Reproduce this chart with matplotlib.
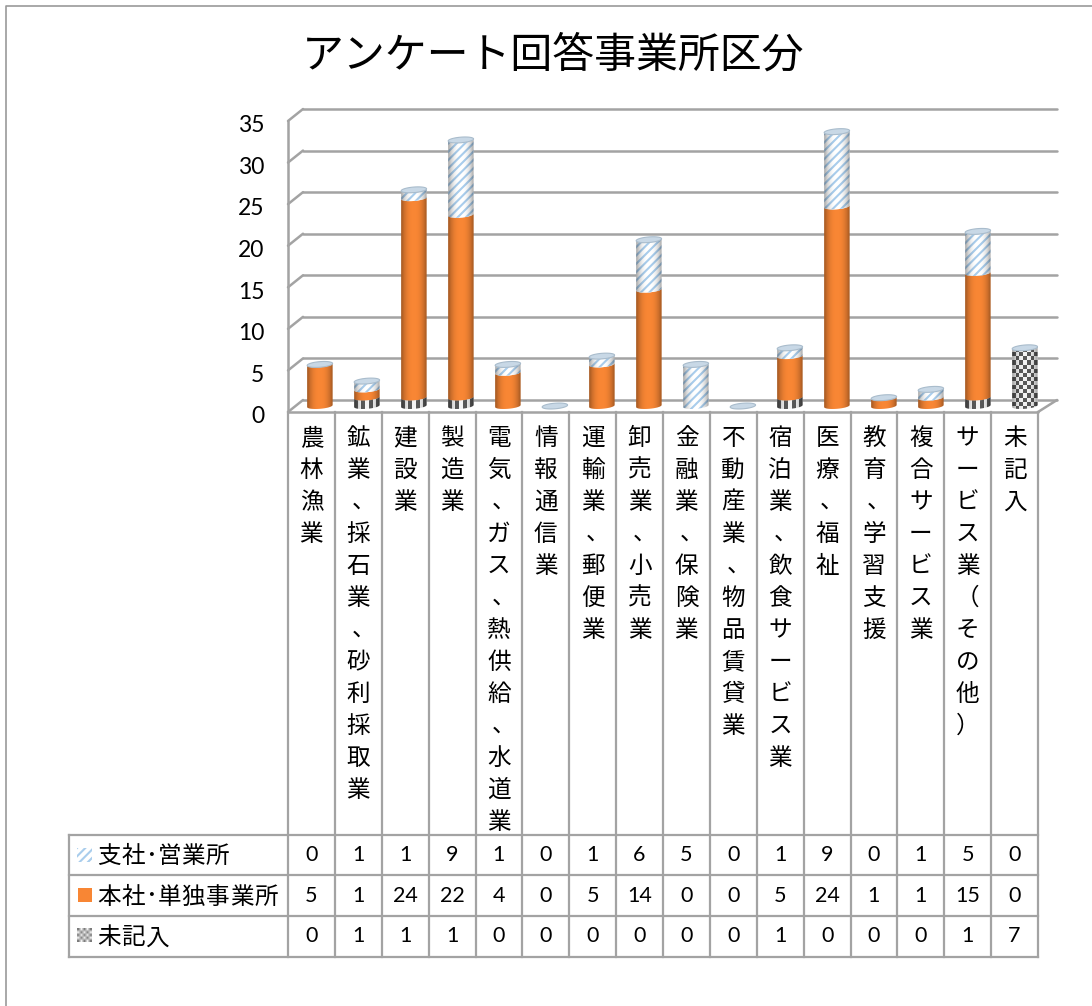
import numpy as np
import matplotlib
matplotlib.use("Agg")
from matplotlib import pyplot as plt
from matplotlib.path import Path
from matplotlib.patches import PathPatch, Rectangle
from matplotlib.transforms import ScaledTranslation

categories = [
    "農林漁業", "鉱業、採石業、砂利採取業", "建設業", "製造業",
    "電気、ガス、熱供給、水道業", "情報通信業", "運輸業、郵便業", "卸売業、小売業",
    "金融業、保険業", "不動産業、物品賃貸業", "宿泊業、飲食サービス業", "医療、福祉",
    "教育、学習支援", "複合サービス業", "サービス業（その他）", "未記入",
]
branch = [0, 1, 1, 9, 1, 0, 1, 6, 5, 0, 1, 9, 0, 1, 5, 0]
head = [5, 1, 24, 22, 4, 0, 5, 14, 0, 0, 5, 24, 1, 1, 15, 0]
unknown = [0, 1, 1, 1, 0, 0, 0, 0, 0, 0, 1, 0, 0, 0, 1, 7]
row_names = ["支社･営業所", "本社･単独事業所", "未記入"]
y_ticks = [0, 5, 10, 15, 20, 25, 30, 35]
title = "アンケート回答事業所区分"

JP = "Noto Sans CJK JP"
GREY = "#a3a3a3"
ORANGE = "#f88634"
STRIPE = "#a9cdec"
PX_X = 750 / 16  # pixels per category
PX_Y = 291 / 35  # pixels per unit

plt.rcParams["hatch.linewidth"] = 1.5

fig = plt.figure(figsize=(10.92, 10.06), dpi=100)
ax = fig.add_axes([288 / 1092, 1 - 412 / 1006, 750 / 1092, 291 / 1006])
ax.patch.set_alpha(0)
for s in ax.spines.values():
    s.set_visible(False)

# 3d walls of the plot area
dx_left, dx_right, dy = 15 / PX_X, 19 / PX_X, 12 / PX_Y
line_kw = dict(color=GREY, lw=1.8, clip_on=False, zorder=1, solid_capstyle="round")
for t in y_ticks:
    ax.plot([dx_left, 16 + dx_right], [t + dy, t + dy], **line_kw)
    ax.plot([0, dx_left], [t, t + dy], **line_kw)
ax.plot([0, 0], [0, 35], **line_kw)
ax.plot([0, 16], [0, 0], **line_kw)
ax.plot([16, 16 + dx_right], [0, dy], **line_kw)


rx = 12.7 / PX_X
ry = 2.8 / PX_Y
tilt = 1.0 / PX_Y
base = 0.72


def front_arc(xc, yc, reverse=False):
    t = np.linspace(np.pi, 2 * np.pi, 30)
    if reverse:
        t = t[::-1]
    return np.c_[xc + rx * np.cos(t), yc + ry * np.sin(t) + tilt * np.cos(t)]


def body_path(xc, y0, y1):
    verts = np.vstack([front_arc(xc, y0), front_arc(xc, y1, reverse=True)])
    verts = np.vstack([verts, verts[0]])
    return Path(verts, closed=True)


def checker_image(nx, ny):
    yy, xx = np.indices((ny, nx))
    return ((xx + yy) % 2) * 0.95 + 0.35 * ((xx + yy + 1) % 2)


def draw_segment(xc, y0, y1, kind):
    path = body_path(xc, y0, y1)
    ext = [xc - rx, xc + rx, y0 - ry - tilt, y1 + ry + tilt]
    if kind == "head":
        patch = PathPatch(path, facecolor=ORANGE, edgecolor="none", zorder=3)
        ax.add_patch(patch)
    elif kind == "branch":
        patch = PathPatch(path, facecolor="white", edgecolor=STRIPE, hatch="////", lw=0, zorder=3)
        ax.add_patch(patch)
    else:
        patch = PathPatch(path, facecolor="white", edgecolor="none", zorder=3)
        ax.add_patch(patch)
        if y1 - y0 <= 1:
            img = checker_image(7, 1)
        else:
            img = checker_image(7, int((y1 - y0) * PX_Y / 3.5))
        im = ax.imshow(img, extent=ext, aspect="auto", cmap="gray", vmin=0, vmax=1,
                       interpolation="nearest", zorder=3.5)
        im.set_clip_path(patch)
    # side shading of the cylinder
    u = np.linspace(-1, 1, 64)
    shade = np.zeros((1, 64, 4))
    shade[0, :, 3] = 0.36 * np.abs(u) ** 2.5
    im = ax.imshow(shade, extent=ext, aspect="auto", zorder=4, interpolation="bilinear")
    im.set_clip_path(patch)


def draw_cap(xc, yc):
    t = np.linspace(0, 2 * np.pi, 60)
    verts = np.c_[xc + rx * np.cos(t), yc + ry * np.sin(t) + tilt * np.cos(t)]
    ax.add_patch(PathPatch(Path(verts, closed=True), facecolor="#c8d8e6", edgecolor="#a9bccc",
                           lw=0.8, zorder=6))


for i in range(len(categories)):
    xc = i * 47 / PX_X + 0.68
    y = base
    for value, kind in [(unknown[i], "unknown"), (head[i], "head"), (branch[i], "branch")]:
        if value > 0:
            draw_segment(xc, y, y + value, kind)
            y += value
    draw_cap(xc, y)

ax.set_xlim(0, 16)
ax.set_ylim(0, 35)
ax.set_xticks([])
ax.set_yticks(y_ticks)
ax.set_yticklabels([str(t) for t in y_ticks], family="Lato", fontsize=16.5)
ax.tick_params(axis="y", length=0, pad=17)
for lab in ax.get_yticklabels():
    lab.set_transform(lab.get_transform() + ScaledTranslation(0, -2 / 72, fig.dpi_scale_trans))

# everything below is laid out in image pixels
over = fig.add_axes([0, 0, 1, 1])
over.set_xlim(0, 1092)
over.set_ylim(1006, 0)
over.axis("off")

over.plot([6, 6, 1092], [1006, 6, 6], color="#9a9a9a", lw=1.2)
over.text(553, 56, title, family=JP, fontsize=30.2, ha="center", va="center", color="black")

# table grid
rows_y = [835, 875, 916, 957]
cols_x = [288 + PX_X * k for k in range(17)]
for x in cols_x:
    over.plot([x, x], [412, 957], color=GREY, lw=1.6)
for y in rows_y:
    over.plot([69, cols_x[-1]], [y, y], color=GREY, lw=1.6)
over.plot([69, 69], [rows_y[0], rows_y[-1]], color=GREY, lw=1.6)

# category labels, one character per line
offsets = {"、": (5, -1), "ー": (0, 0)}
for i, name in enumerate(categories):
    xc = cols_x[i] + PX_X / 2
    for k, ch in enumerate(name):
        ox, oy = offsets.get(ch, (0, 0))
        over.text(xc + ox, 437 + 32 * k + 8 + oy, ch, family=JP, fontsize=17,
                  ha="center", va="baseline", color="black")

# row labels with their legend keys
for r, name in enumerate(row_names):
    yc = (rows_y[r] + rows_y[r + 1]) / 2
    x = 97
    for ch in name:
        over.text(x, yc + 8, ch, family=JP, fontsize=17, ha="left", va="baseline", color="black")
        x += 12 if ch == "･" else 24.2

over.add_patch(Rectangle((77, 848), 15, 14, facecolor="white", edgecolor=STRIPE, hatch="////", lw=0))
over.add_patch(Rectangle((78, 888), 14, 14, facecolor=ORANGE, edgecolor="none"))
over.imshow(checker_image(5, 5), extent=[77, 92, 942, 928], aspect="auto", cmap="gray",
            vmin=0, vmax=1, interpolation="bilinear", alpha=0.8)
over.set_xlim(0, 1092)
over.set_ylim(1006, 0)

# table values
for r, values in enumerate([branch, head, unknown]):
    yc = (rows_y[r] + rows_y[r + 1]) / 2
    for i, v in enumerate(values):
        over.text(cols_x[i] + PX_X / 2, yc, str(v), family="Lato", fontsize=15.5,
                  ha="center", va="center", color="black")

fig.savefig("out.png", dpi=100, facecolor="white")
